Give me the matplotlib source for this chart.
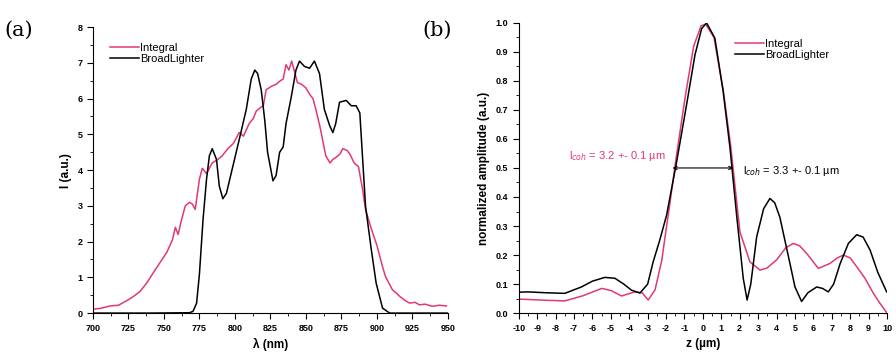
import matplotlib
matplotlib.use("Agg")
import matplotlib.pyplot as plt
from matplotlib.ticker import MultipleLocator

# panel (a): spectra
lam_int = [700, 705, 712, 718, 723, 728, 733, 738, 742, 747, 752, 756, 758, 760, 762,
           765, 768, 770, 772, 775, 777, 780, 784, 788, 791, 795, 799, 801, 803, 806,
           810, 813, 815, 818, 820, 822, 826, 829, 832, 834, 836, 838, 840, 841, 844,
           847, 850, 853, 855, 857, 860, 862, 864, 867, 869, 871, 874, 876, 879, 881,
           884, 887, 890, 892, 895, 897, 900, 902, 904, 906, 909, 911, 914, 916, 920,
           923, 927, 930, 934, 939, 944, 949]
i_int = [0.11, 0.13, 0.2, 0.22, 0.33, 0.45, 0.6, 0.85, 1.1, 1.4, 1.7, 2.05, 2.4, 2.2, 2.55,
         3.0, 3.1, 3.05, 2.9, 3.75, 4.05, 3.9, 4.2, 4.3, 4.4, 4.6, 4.75, 4.9, 5.05, 4.95,
         5.3, 5.45, 5.65, 5.75, 5.8, 6.25, 6.35, 6.4, 6.5, 6.55, 6.95, 6.8, 7.05, 6.9, 6.45,
         6.4, 6.3, 6.1, 6.0, 5.7, 5.2, 4.8, 4.4, 4.2, 4.3, 4.35, 4.45, 4.6, 4.55, 4.45,
         4.2, 4.1, 3.45, 2.9, 2.5, 2.25, 1.9, 1.6, 1.3, 1.03, 0.8, 0.65, 0.55, 0.47, 0.35,
         0.28, 0.3, 0.23, 0.25, 0.19, 0.22, 0.2]

lam_bl = [700, 740, 768, 770.5, 773, 775, 777.5, 780, 782, 784, 787, 789, 791.5, 794,
          798.5, 803, 808, 811.5, 814, 816, 818.5, 821, 823, 826.8, 829, 831.5, 834, 836,
          839.7, 843, 845.5, 849, 852.6, 856, 859.6, 863, 866.7, 869, 871, 873.7, 878.4,
          882, 885.4, 888, 892, 896, 899.5, 904, 909, 920, 950]
i_bl = [0.0, 0.0, 0.01, 0.05, 0.28, 1.1, 2.6, 3.75, 4.4, 4.6, 4.3, 3.55, 3.2, 3.35,
        4.1, 4.85, 5.7, 6.55, 6.8, 6.7, 6.25, 5.4, 4.5, 3.7, 3.85, 4.5, 4.65, 5.3,
        6.05, 6.8, 7.05, 6.9, 6.85, 7.05, 6.7, 5.7, 5.25, 5.05, 5.3, 5.9, 5.95,
        5.8, 5.8, 5.6, 3.0, 1.8, 0.84, 0.14, 0.0, 0.0, 0.0]

# panel (b): normalized amplitude
z_bl = [-10, -9.5, -8.5, -7.5, -6.6, -6.0, -5.33, -4.78, -4.3, -3.88, -3.42, -3.0,
        -2.7, -2.35, -1.97, -1.43, -0.89, -0.43, -0.07, 0.2, 0.65, 1.1, 1.47, 1.83,
        2.19, 2.4, 2.6, 2.92, 3.3, 3.64, 3.9, 4.18, 4.73, 5.0, 5.36, 5.7, 6.18, 6.5,
        6.81, 7.1, 7.45, 7.9, 8.35, 8.7, 9.08, 9.5, 9.98]
a_bl = [0.072, 0.073, 0.07, 0.068, 0.09, 0.11, 0.123, 0.12, 0.1, 0.079, 0.069, 0.1,
        0.177, 0.25, 0.338, 0.52, 0.717, 0.89, 0.98, 1.0, 0.947, 0.763, 0.57, 0.338,
        0.12, 0.045, 0.1, 0.263, 0.36, 0.395, 0.38, 0.33, 0.17, 0.09, 0.04, 0.07, 0.09,
        0.085, 0.073, 0.1, 0.17, 0.24, 0.27, 0.262, 0.217, 0.14, 0.073]

z_int = [-10, -9.5, -8.5, -7.5, -6.5, -5.5, -5.0, -4.42, -3.7, -3.3, -2.97, -2.6,
         -2.24, -1.79, -1.43, -0.95, -0.5, -0.1, 0.15, 0.6, 1.1, 1.5, 2.01, 2.55,
         3.1, 3.47, 4.0, 4.5, 4.91, 5.25, 5.63, 6.27, 6.9, 7.3, 7.63, 8.0, 8.35,
         8.8, 9.26, 9.6, 10.0]
a_int = [0.048, 0.047, 0.044, 0.042, 0.06, 0.085, 0.078, 0.059, 0.073, 0.07, 0.045, 0.08,
         0.18, 0.38, 0.545, 0.75, 0.92, 0.99, 0.995, 0.95, 0.77, 0.58, 0.28, 0.177,
         0.148, 0.155, 0.183, 0.225, 0.24, 0.232, 0.206, 0.154, 0.171, 0.19, 0.2, 0.19,
         0.16, 0.12, 0.068, 0.035, 0.0]

pink = '#e23a6d'
plt.rcParams['font.family'] = ['Liberation Sans', 'DejaVu Sans']
plt.rcParams['axes.unicode_minus'] = False

fig = plt.figure(figsize=(8.96, 3.57), dpi=100)
ax1 = fig.add_axes([0.1038, 0.123, 0.396, 0.801])
ax2 = fig.add_axes([0.579, 0.123, 0.411, 0.813])

for ax in (ax1, ax2):
    ax.spines['top'].set_visible(False)
    ax.spines['right'].set_visible(False)
    ax.tick_params(which='major', length=4, width=0.8, labelsize=6.5)
    ax.tick_params(which='minor', length=2, width=0.6)

ax1.plot(lam_int, i_int, color=pink, lw=1.1, label='Integral')
ax1.plot(lam_bl, i_bl, color='black', lw=1.1, label='BroadLighter')
ax1.set_xlim(700, 950)
ax1.set_ylim(0, 8)
ax1.xaxis.set_major_locator(MultipleLocator(25))
ax1.xaxis.set_minor_locator(MultipleLocator(12.5))
ax1.yaxis.set_major_locator(MultipleLocator(1))
ax1.yaxis.set_minor_locator(MultipleLocator(0.5))
ax1.set_xlabel('λ (nm)', fontsize=8.5, fontweight='bold')
ax1.set_ylabel('I (a.u.)', fontsize=8.5, fontweight='bold')
ax1.legend(loc='upper left', bbox_to_anchor=(0.02, 0.98), frameon=False, fontsize=8,
           handlelength=2.6, handletextpad=0.1, labelspacing=0.1)
for t in ax1.get_xticklabels() + ax1.get_yticklabels():
    t.set_fontweight('bold')

ax2.plot(z_int, a_int, color=pink, lw=1.1, label='Integral')
ax2.plot(z_bl, a_bl, color='black', lw=1.1, label='BroadLighter')
ax2.set_xlim(-10, 10)
ax2.set_ylim(0, 1.0)
ax2.xaxis.set_major_locator(MultipleLocator(1))
ax2.xaxis.set_minor_locator(MultipleLocator(0.5))
ax2.yaxis.set_major_locator(MultipleLocator(0.1))
ax2.yaxis.set_minor_locator(MultipleLocator(0.05))
ax2.yaxis.set_major_formatter(plt.FormatStrFormatter('%.1f'))
ax2.set_xlabel('z (µm)', fontsize=8.5, fontweight='bold')
ax2.set_ylabel('normalized amplitude (a.u.)', fontsize=8.5, fontweight='bold')
ax2.legend(loc='upper left', bbox_to_anchor=(0.56, 0.98), frameon=False, fontsize=8,
           handlelength=2.6, handletextpad=0.1, labelspacing=0.1)
for t in ax2.get_xticklabels() + ax2.get_yticklabels():
    t.set_fontweight('bold')

ax2.annotate('', xy=(-1.65, 0.5), xytext=(1.65, 0.5),
             arrowprops=dict(arrowstyle='<->', color='black', lw=0.8,
                             shrinkA=0, shrinkB=0, mutation_scale=6))
ax2.text(-2.0, 0.54, r'l$_{coh}$ = 3.2 +- 0.1 µm', color=pink, fontsize=8,
         ha='right', va='center')
ax2.text(2.2, 0.49, r'l$_{coh}$ = 3.3 +- 0.1 µm', color='black', fontsize=8,
         ha='left', va='center')

fig.text(0.005, 0.915, '(a)', fontsize=15, family='DejaVu Serif', va='center')
fig.text(0.471, 0.915, '(b)', fontsize=15, family='DejaVu Serif', va='center')

fig.savefig('out.png', dpi=100, facecolor='white')
